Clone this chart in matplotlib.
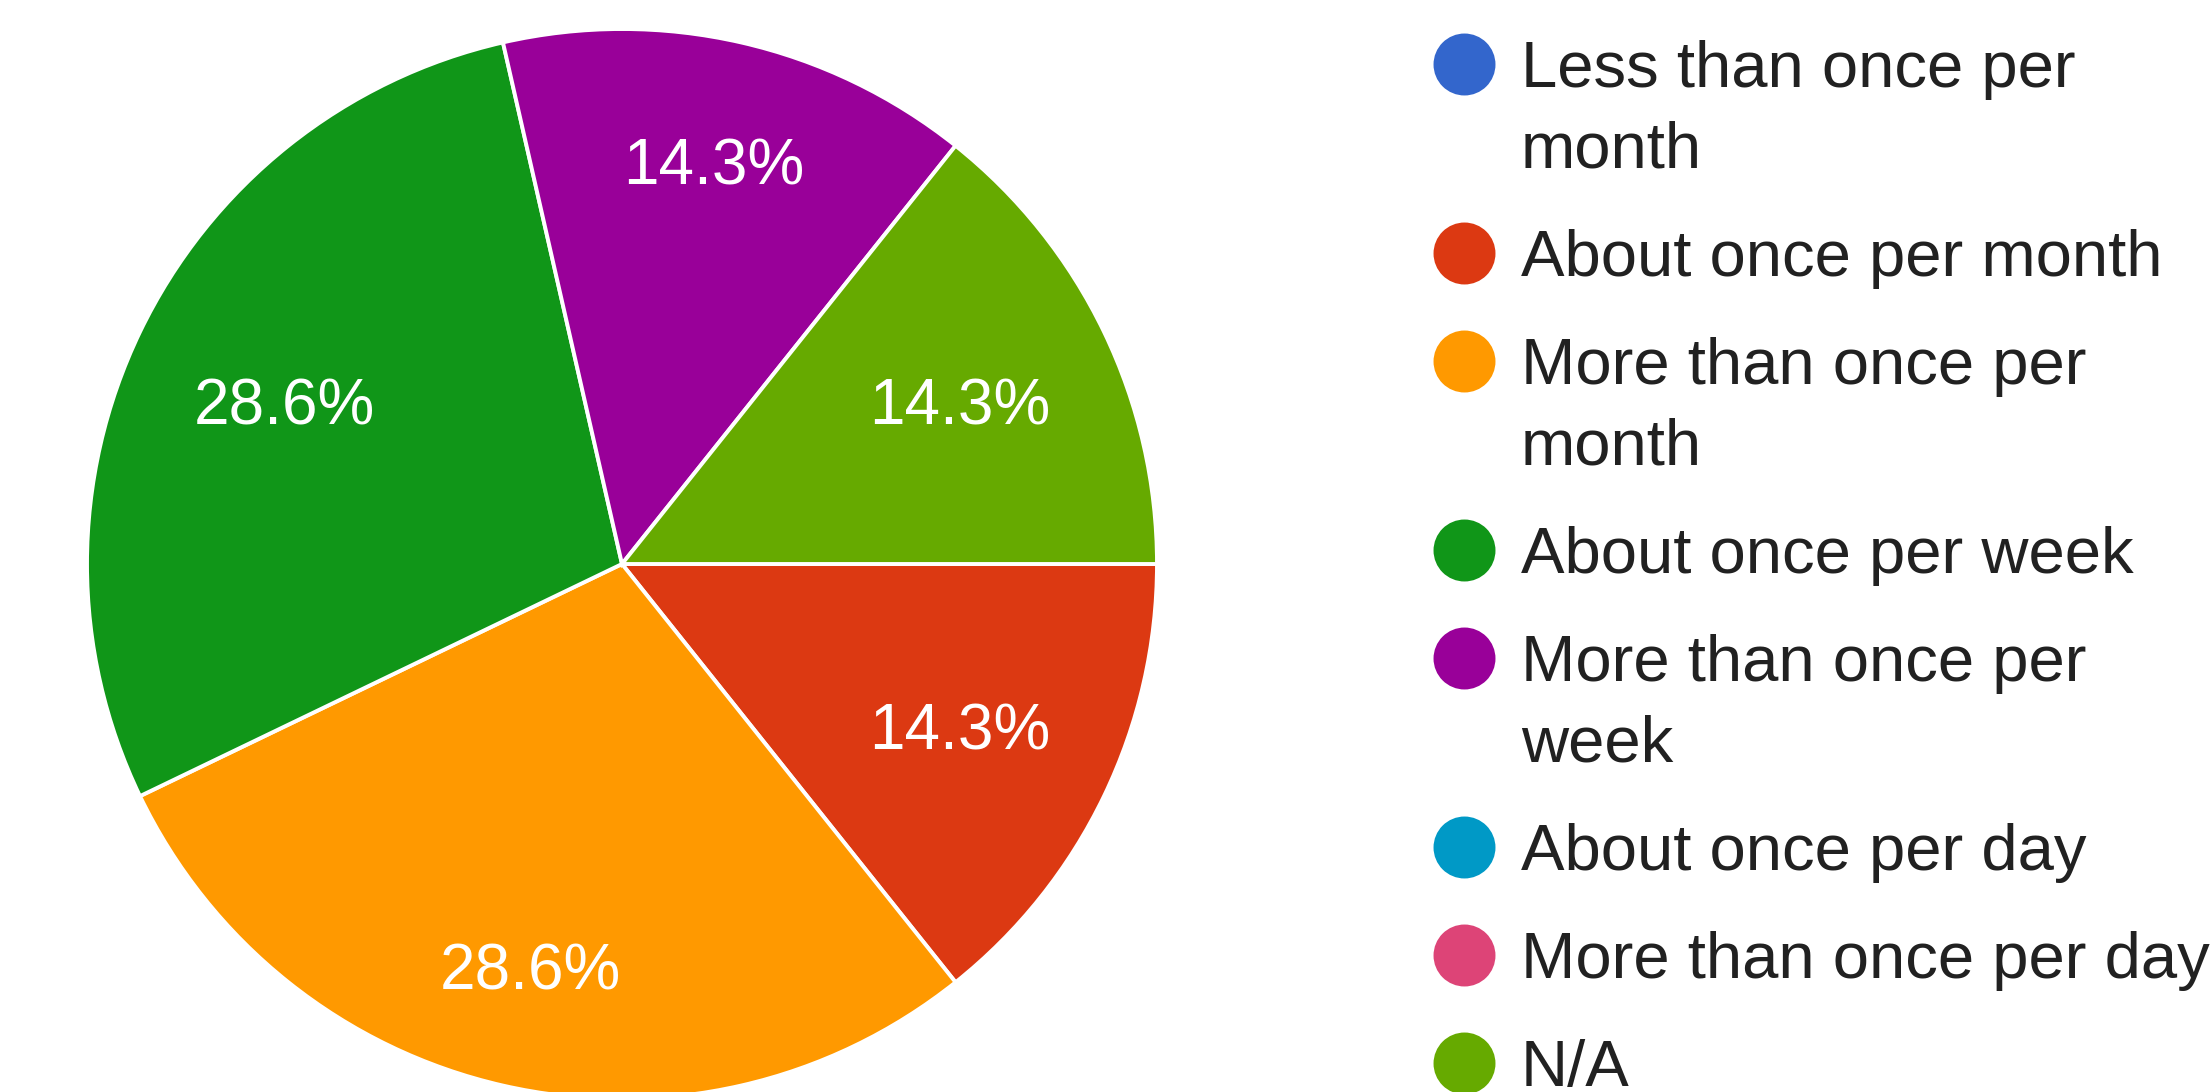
import numpy as np
import matplotlib.pyplot as plt

# Dane z ankiety (liczba odpowiedzi)
categories = ['Less than once per month', 'About once per month', 'More than once per month',
              'About once per week', 'More than once per week', 'About once per day',
              'More than once per day', 'N/A']
counts = [0, 1, 2, 2, 1, 0, 0, 1]
legend_labels = ['Less than once per\nmonth', 'About once per month', 'More than once per\nmonth',
                 'About once per week', 'More than once per\nweek', 'About once per day',
                 'More than once per day', 'N/A']
colors = ['#3366cc', '#dc3912', '#ff9900', '#109618', '#990099', '#0099c6', '#dd4477', '#66aa00']

plt.rcParams['font.family'] = ['Liberation Sans', 'DejaVu Sans']

W, H = 2212, 1092
fig = plt.figure(figsize=(W / 100, H / 100), dpi=100)

# Wykres kołowy - promień 535 px, środek (622, 564)
cx, cy, r = 622, 564, 535
ax = fig.add_axes([(cx - r) / W, (H - cy - r) / H, 2 * r / W, 2 * r / H])

vals = np.array(counts)
mask = vals > 0
pct_fs = 46
wedges, texts, autotexts = ax.pie(
    vals[mask], colors=np.array(colors)[mask], startangle=0, counterclock=False,
    autopct='%.1f%%', pctdistance=0.72,
    wedgeprops=dict(edgecolor='white', linewidth=2.8),
    textprops=dict(color='white', fontsize=pct_fs))
ax.set_xlim(-1, 1)
ax.set_ylim(-1, 1)

# Etykiety procentowe: środek wersalików na promieniu, bliżej środka dla poziomych wycinków
half_cap = 0.716 * pct_fs * 100 / 72 / 2 / r
for w, t in zip(wedges, autotexts):
    mid = np.deg2rad((w.theta1 + w.theta2) / 2)
    d = 0.645 + 0.13 * abs(np.sin(mid))
    t.set_va('baseline')
    t.set_position((d * np.cos(mid), d * np.sin(mid) - half_cap))

# Legenda rysowana ręcznie
lax = fig.add_axes([0, 0, 1, 1])
lax.set_xlim(0, W)
lax.set_ylim(H, 0)
lax.axis('off')

fs = 47
cap = 0.716 * fs * 100 / 72
y = 63.5
for lab, col in zip(legend_labels, colors):
    lax.plot(1464, y, 'o', color=col, markersize=44.6, markeredgewidth=0)
    for j, line in enumerate(lab.split('\n')):
        lax.text(1521, y + cap / 2 + j * 81, line, fontsize=fs, color='#212121',
                 ha='left', va='baseline')
    y += 108 + 81 * lab.count('\n')

fig.savefig('out.png', dpi=100)
